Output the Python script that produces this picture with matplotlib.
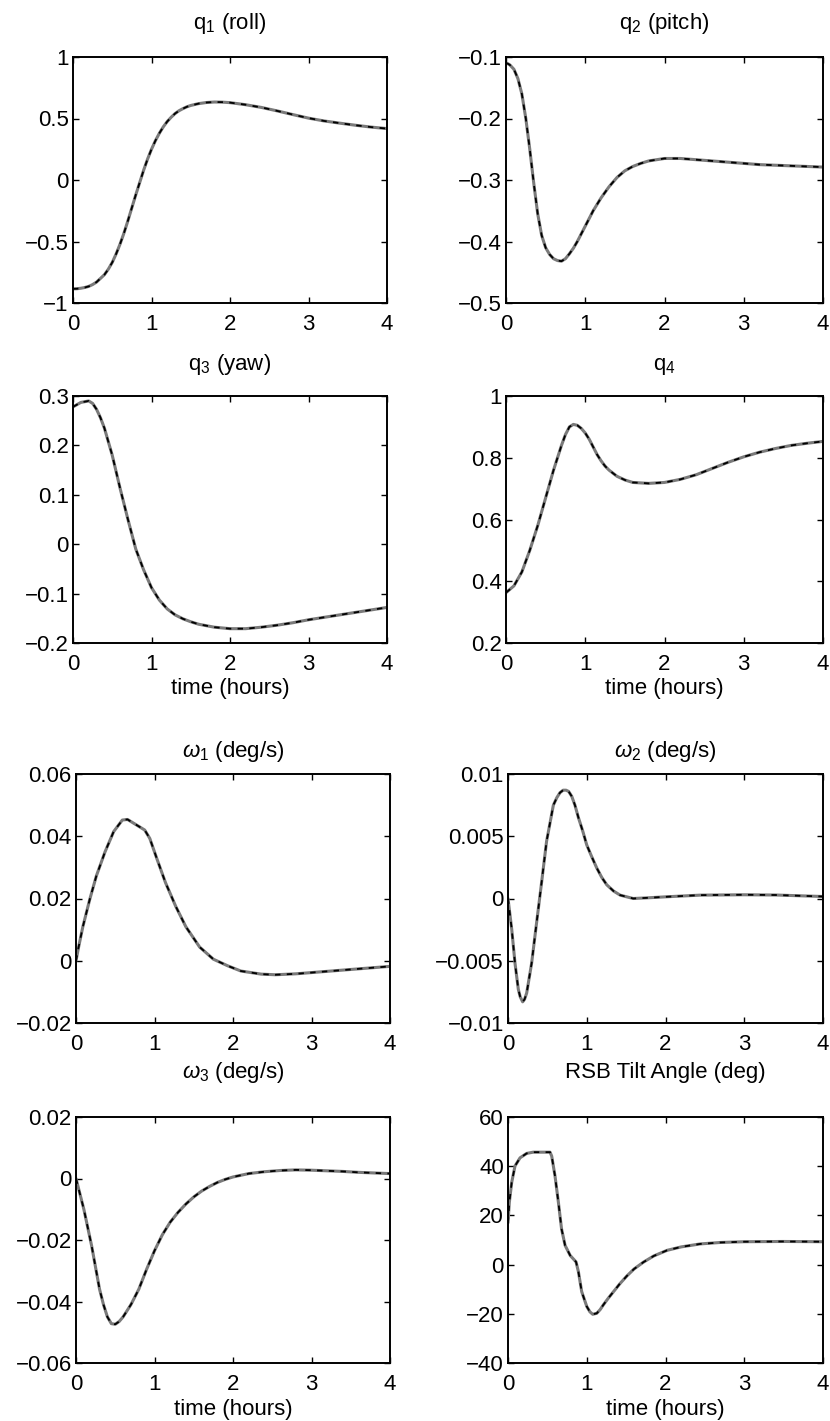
import matplotlib
matplotlib.use('Agg')
import matplotlib.pyplot as plt

plt.rcParams['font.family'] = ['Liberation Sans', 'DejaVu Sans']
plt.rcParams['mathtext.fontset'] = 'custom'
plt.rcParams['mathtext.rm'] = 'Liberation Sans'
plt.rcParams['mathtext.it'] = 'Liberation Sans:italic'
plt.rcParams['axes.unicode_minus'] = True

# ---------------- data ----------------
x_ticks = [0, 1, 2, 3, 4]

t_q1 = [0.0, 0.05, 0.1, 0.15, 0.2, 0.25, 0.3, 0.35, 0.4, 0.45, 0.5, 0.55, 0.6, 0.65, 0.7,
        0.75, 0.8, 0.85, 0.9, 0.95, 1.0, 1.05, 1.1, 1.15, 1.2, 1.25, 1.3, 1.35, 1.4, 1.45,
        1.5, 1.6, 1.7, 1.8, 1.9, 2.0, 2.2, 2.4, 2.6, 2.8, 3.0, 3.2, 3.4, 3.6, 3.8, 4.0]
q1 = [-0.885, -0.884, -0.88, -0.874, -0.865, -0.85, -0.83, -0.80, -0.77, -0.725, -0.67,
      -0.6, -0.52, -0.43, -0.33, -0.225, -0.12, -0.02, 0.08, 0.17, 0.25, 0.32, 0.38, 0.432,
      0.475, 0.51, 0.54, 0.563, 0.58, 0.595, 0.606, 0.621, 0.63, 0.634, 0.633, 0.629,
      0.612, 0.59, 0.562, 0.532, 0.503, 0.48, 0.462, 0.445, 0.43, 0.418]

t_q2 = [0.0, 0.025, 0.05, 0.1, 0.15, 0.2, 0.25, 0.3, 0.35, 0.4, 0.45, 0.5, 0.55, 0.6, 0.65,
        0.7, 0.75, 0.8, 0.85, 0.9, 1.0, 1.1, 1.2, 1.3, 1.4, 1.5, 1.6, 1.7, 1.8, 2.0, 2.2,
        2.4, 2.6, 2.8, 3.0, 3.2, 3.4, 3.6, 3.8, 4.0]
q2 = [-0.11, -0.111, -0.113, -0.12, -0.135, -0.16, -0.2, -0.25, -0.305, -0.355, -0.39,
      -0.41, -0.421, -0.428, -0.431, -0.432, -0.428, -0.42, -0.411, -0.4, -0.375, -0.35,
      -0.329, -0.311, -0.296, -0.285, -0.278, -0.273, -0.269, -0.265, -0.265, -0.267,
      -0.269, -0.271, -0.273, -0.275, -0.276, -0.277, -0.278, -0.279]

t_q3 = [0.0, 0.1, 0.2, 0.25, 0.3, 0.35, 0.4, 0.5, 0.6, 0.7, 0.8, 0.9, 1.0, 1.1, 1.2, 1.3,
        1.4, 1.5, 1.6, 1.8, 2.0, 2.2, 2.4, 2.6, 2.8, 3.0, 3.2, 3.4, 3.6, 3.8, 4.0]
q3 = [0.278, 0.287, 0.29, 0.285, 0.273, 0.256, 0.235, 0.18, 0.113, 0.05, -0.01, -0.052,
      -0.088, -0.113, -0.131, -0.143, -0.151, -0.157, -0.162, -0.168, -0.171, -0.171,
      -0.168, -0.164, -0.159, -0.153, -0.148, -0.143, -0.138, -0.133, -0.128]

t_q4 = [0.0, 0.1, 0.2, 0.3, 0.4, 0.5, 0.6, 0.7, 0.75, 0.8, 0.85, 0.9, 0.95, 1.0, 1.05,
        1.1, 1.15, 1.2, 1.25, 1.3, 1.4, 1.5, 1.6, 1.8, 2.0, 2.2, 2.4, 2.6, 2.8, 3.0, 3.2,
        3.4, 3.6, 3.8, 4.0]
q4 = [0.363, 0.385, 0.43, 0.5, 0.58, 0.67, 0.76, 0.84, 0.875, 0.9, 0.908, 0.905, 0.895,
      0.88, 0.86, 0.835, 0.81, 0.79, 0.773, 0.76, 0.74, 0.728, 0.72, 0.717, 0.72, 0.73,
      0.745, 0.765, 0.785, 0.803, 0.818, 0.83, 0.84, 0.847, 0.853]

t_w1 = [0.0, 0.03, 0.087, 0.175, 0.26, 0.37, 0.48, 0.59, 0.656, 0.766, 0.875, 0.94, 1.03,
        1.14, 1.27, 1.40, 1.575, 1.75, 1.93, 2.1, 2.36, 2.54, 2.8, 3.0, 3.2, 3.4, 3.6,
        3.8, 4.0]
w1 = [0.0, 0.004, 0.0109, 0.0197, 0.0273, 0.035, 0.0415, 0.0452, 0.0454, 0.0437, 0.042,
      0.0393, 0.0328, 0.0251, 0.0175, 0.0109, 0.0044, 0.0005, -0.0016, -0.0033, -0.0043,
      -0.0045, -0.0042, -0.0038, -0.0034, -0.003, -0.0026, -0.0022, -0.0018]

t_w2 = [0.0, 0.047, 0.089, 0.131, 0.155, 0.186, 0.21, 0.237, 0.30, 0.364, 0.428, 0.49,
        0.576, 0.62, 0.66, 0.70, 0.737, 0.77, 0.81, 0.85, 0.894, 0.95, 1.0, 1.06, 1.127,
        1.19, 1.254, 1.34, 1.424, 1.59, 1.76, 2.02, 2.44, 3.0, 3.4, 3.8, 4.0]
w2 = [0.0, -0.00245, -0.0052, -0.0073, -0.0079, -0.0083, -0.0081, -0.0076, -0.0052,
      -0.0019, 0.00136, 0.0046, 0.0075, 0.0081, 0.0085, 0.0087, 0.0087, 0.0086, 0.0082,
      0.0075, 0.0065, 0.0054, 0.0043, 0.0034, 0.00245, 0.0017, 0.0011, 0.0006, 0.00027,
      0.0, 0.00005, 0.00014, 0.00027, 0.0003, 0.00028, 0.0002, 0.00016]

t_w3 = [0.0, 0.05, 0.1, 0.15, 0.2, 0.25, 0.3, 0.35, 0.4, 0.45, 0.5, 0.55, 0.6, 0.7, 0.8,
        0.9, 1.0, 1.1, 1.2, 1.3, 1.4, 1.5, 1.6, 1.7, 1.8, 1.9, 2.0, 2.2, 2.4, 2.6, 2.8,
        3.0, 3.2, 3.4, 3.6, 3.8, 4.0]
w3 = [0.0, -0.005, -0.01, -0.016, -0.022, -0.029, -0.036, -0.041, -0.045, -0.0472,
      -0.0474, -0.0465, -0.045, -0.041, -0.036, -0.0295, -0.0235, -0.0183, -0.0142,
      -0.011, -0.0083, -0.006, -0.0041, -0.0026, -0.0013, -0.0003, 0.0005, 0.0016,
      0.0022, 0.0026, 0.0028, 0.0027, 0.0025, 0.0023, 0.002, 0.0018, 0.0016]

t_rsb = [0.0, 0.017, 0.047, 0.089, 0.153, 0.237, 0.32, 0.534, 0.555, 0.597, 0.64, 0.68,
         0.725, 0.79, 0.864, 0.894, 0.936, 1.0, 1.04, 1.076, 1.127, 1.17, 1.21, 1.27,
         1.34, 1.42, 1.51, 1.6, 1.72, 1.85, 2.02, 2.2, 2.44, 2.7, 3.0, 3.5, 4.0]
rsb = [17.0, 25.3, 33.4, 40.1, 43.4, 45.2, 45.7, 45.7, 44.1, 36.0, 25.3, 14.5, 7.8, 3.7,
       1.1, -2.9, -11.0, -17.0, -19.2, -20.2, -19.8, -18.3, -16.4, -13.8, -11.0, -7.8,
       -4.6, -1.8, 1.0, 3.5, 5.8, 7.2, 8.4, 9.0, 9.3, 9.4, 9.3]

titles = [r'q$_1$ (roll)', r'q$_2$ (pitch)', r'q$_3$ (yaw)', r'q$_4$',
          r'$\omega_1$ (deg/s)', r'$\omega_2$ (deg/s)', r'$\omega_3$ (deg/s)',
          'RSB Tilt Angle (deg)']

y_ticks = [
    [-1, -0.5, 0, 0.5, 1],
    [-0.5, -0.4, -0.3, -0.2, -0.1],
    [-0.2, -0.1, 0, 0.1, 0.2, 0.3],
    [0.2, 0.4, 0.6, 0.8, 1.0],
    [-0.02, 0, 0.02, 0.04, 0.06],
    [-0.01, -0.005, 0, 0.005, 0.01],
    [-0.06, -0.04, -0.02, 0, 0.02],
    [-40, -20, 0, 20, 40, 60],
]
y_labels = [
    ['\u22121', '\u22120.5', '0', '0.5', '1'],
    ['\u22120.5', '\u22120.4', '\u22120.3', '\u22120.2', '\u22120.1'],
    ['\u22120.2', '\u22120.1', '0', '0.1', '0.2', '0.3'],
    ['0.2', '0.4', '0.6', '0.8', '1'],
    ['\u22120.02', '0', '0.02', '0.04', '0.06'],
    ['\u22120.01', '\u22120.005', '0', '0.005', '0.01'],
    ['\u22120.06', '\u22120.04', '\u22120.02', '0', '0.02'],
    ['\u221240', '\u221220', '0', '20', '40', '60'],
]

series = [(t_q1, q1), (t_q2, q2), (t_q3, q3), (t_q4, q4),
          (t_w1, w1), (t_w2, w2), (t_w3, w3), (t_rsb, rsb)]

# ---------------- layout (pixel boxes) ----------------
W, H = 830, 1421
fig = plt.figure(figsize=(W / 100, H / 100), dpi=100)

col_x = [[(73, 387), (506, 823)], [(73, 387), (506, 823)],
         [(76, 390), (508, 823)], [(76, 390), (508, 823)]]
row_y = [(57, 303), (396, 643), (774, 1023), (1117, 1363)]
title_base = [29, 370, 757, 1078]
FS = 16

for i, (ts, vs) in enumerate(series):
    r, c = divmod(i, 2)
    x0, x1 = col_x[r][c]
    y0, y1 = row_y[r]
    ax = fig.add_axes([x0 / W, 1 - y1 / H, (x1 - x0) / W, (y1 - y0) / H])
    ax.plot(ts, vs, color='#7a7a7a', lw=2.2, solid_capstyle='round',
            solid_joinstyle='round', zorder=2)
    ax.plot(ts, vs, color='black', lw=1.3, dashes=(3.0, 3.5), zorder=3)
    lo, hi = y_ticks[i][0], y_ticks[i][-1]
    ax.set_xlim(0, 4)
    ax.set_ylim(lo, hi)
    ax.set_xticks(x_ticks)
    ax.set_xticklabels([str(v) for v in x_ticks])
    ax.set_yticks(y_ticks[i])
    ax.set_yticklabels(y_labels[i])
    ax.tick_params(axis='both', direction='in', top=True, right=True, length=4,
                   width=1.0, labelsize=FS, colors='black')
    ax.tick_params(axis='x', pad=8)
    ax.tick_params(axis='y', pad=3)
    for sp in ax.spines.values():
        sp.set_linewidth(1.4)
    if r in (1, 3):
        ax.set_xlabel('time (hours)', fontsize=FS, labelpad=2 if r == 1 else 3)
    fig.text((x0 + x1) / 2 / W, 1 - title_base[r] / H, titles[i], fontsize=FS,
             ha='center', va='baseline')

fig.savefig('out.png', dpi=100)
